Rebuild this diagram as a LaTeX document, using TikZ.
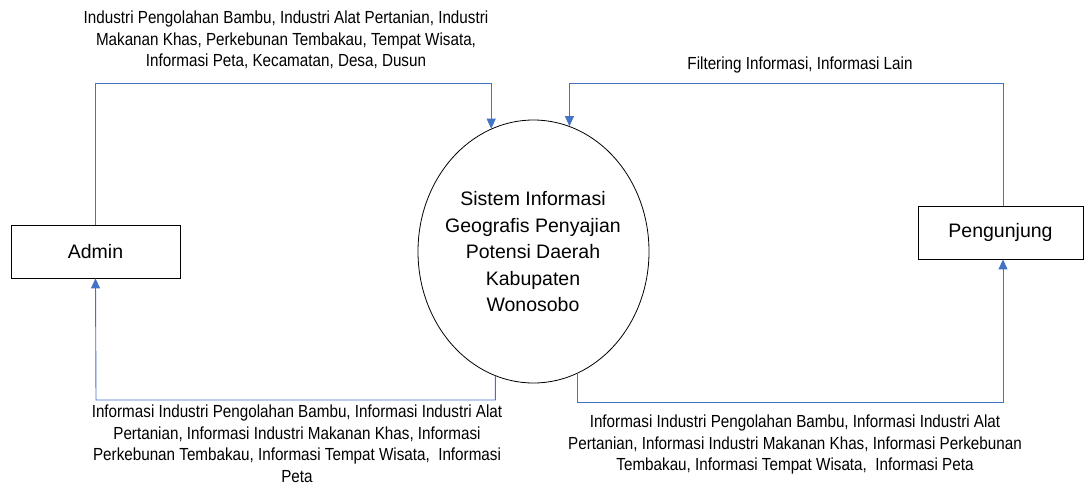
\documentclass[tikz,border=0pt]{standalone}
\usepackage{fontspec}
\setmainfont{Liberation Sans}
\newfontfamily\narrowfont[FakeStretch=0.87]{Liberation Sans}
\usepackage{tikz}
\usetikzlibrary{shapes.geometric,arrows.meta}
\definecolor{flowblue}{RGB}{68,114,196}

\begin{document}
\begin{tikzpicture}[x=1pt,y=-1pt,
		entity/.style={draw,line width=0.8pt,rectangle,minimum height=53pt,inner sep=0pt,font=\fontsize{19.5}{23}\selectfont},
		process/.style={draw,line width=0.8pt,ellipse,minimum width=231pt,minimum height=263pt,inner sep=0pt},
		flow/.style={color=flowblue,line width=0.9pt,-{Triangle[length=10pt,width=9pt]}},
		flowlabel/.style={align=center,inner sep=0pt,font=\narrowfont\fontsize{17.5}{21.5}\selectfont}]
		\useasboundingbox (0,0) rectangle (1084,485);
		\node[process] (sis) at (533.5,251.5) {};
		\node[align=center,inner sep=0pt,font=\fontsize{19.5}{26.5}\selectfont] (sistxt) at (533,252) {Sistem Informasi\\Geografis Penyajian\\Potensi Daerah\\Kabupaten\\Wonosobo};
		\node[entity,minimum width=169pt] (admin) at (95.5,251.5) {Admin};
		\node[entity,minimum width=165pt] (peng) at (1000.5,232.5) {Pengunjung};
		\coordinate (topl) at (0,83);
		\coordinate (topr) at (1003,83);
		\coordinate (botl) at (96,400);
		\coordinate (botr) at (1003,402);
		\draw[flow] (admin.north) -- (admin.north |- topl) -| (sis.109);
		\draw[flow] (peng.north -| topr) -- (topr) -| (sis.74);
		\draw[flow] (sis.253) |- (botl) -- (admin.south);
		\draw[flow] (sis.290) |- (botr) -- (peng.south -| botr);
		\node[flowlabel] (lbladmin) at (286,40) {Industri Pengolahan Bambu, Industri Alat Pertanian, Industri\\Makanan Khas, Perkebunan Tembakau, Tempat Wisata,\\Informasi Peta, Kecamatan, Desa, Dusun};
		\node[flowlabel] (lblpeng) at (800,65) {Filtering Informasi, Informasi Lain};
		\node[flowlabel] (lbltoadmin) at (297,443.5) {Informasi Industri Pengolahan Bambu, Informasi Industri Alat\\Pertanian, Informasi Industri Makanan Khas, Informasi\\Perkebunan Tembakau, Informasi Tempat Wisata,\ \ Informasi\\Peta};
		\node[flowlabel] (lbltopeng) at (795,444.5) {Informasi Industri Pengolahan Bambu, Informasi Industri Alat\\Pertanian, Informasi Industri Makanan Khas, Informasi Perkebunan\\Tembakau, Informasi Tempat Wisata,\ \ Informasi Peta};
\end{tikzpicture}
\end{document}
